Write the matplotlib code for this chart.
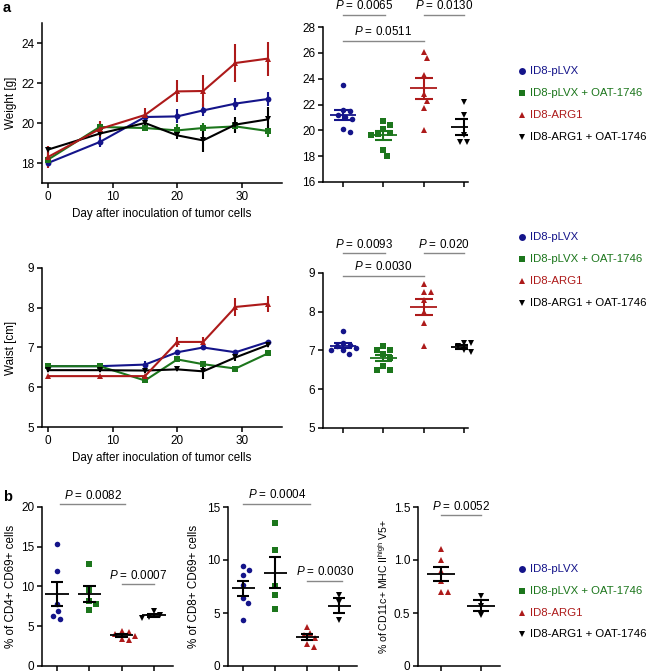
import numpy as np
import matplotlib
matplotlib.use('Agg')
import matplotlib.pyplot as plt
from matplotlib.lines import Line2D

plt.rcParams['font.family'] = ['Liberation Sans', 'DejaVu Sans']
plt.rcParams['mathtext.fontset'] = 'custom'
plt.rcParams['mathtext.rm'] = 'Liberation Sans'
plt.rcParams['mathtext.it'] = 'Liberation Sans:italic'
plt.rcParams['axes.linewidth'] = 1.1

# ---------------- data ----------------
groups = ['ID8-pLVX', 'ID8-pLVX + OAT-1746', 'ID8-ARG1', 'ID8-ARG1 + OAT-1746']
colors = ['#14148a', '#1c761c', '#ad1a1a', '#000000']
markers = ['o', 's', '^', 'v']

days = [0, 8, 15, 20, 24, 29, 34]

weight_pLVX = [18.0, 19.05, 20.3, 20.33, 20.63, 20.97, 21.2]
weight_pLVX_err = [0.2, 0.25, 0.25, 0.35, 0.3, 0.3, 0.35]
weight_pLVX_OAT = [18.17, 19.8, 19.75, 19.63, 19.75, 19.83, 19.6]
weight_pLVX_OAT_err = [0.3, 0.2, 0.15, 0.3, 0.25, 0.3, 0.3]
weight_ARG1 = [18.3, 19.7, 20.4, 21.58, 21.6, 23.0, 23.22]
weight_ARG1_err = [0.55, 0.4, 0.35, 0.55, 0.8, 0.95, 0.85]
weight_ARG1_OAT = [18.67, 19.47, 20.0, 19.38, 19.13, 19.92, 20.18]
weight_ARG1_OAT_err = [0.2, 0.15, 0.2, 0.2, 0.6, 0.4, 0.6]

waist_pLVX = [6.53, 6.53, 6.57, 6.88, 7.0, 6.88, 7.14]
waist_pLVX_err = [0.03, 0.03, 0.08, 0.05, 0.04, 0.04, 0.03]
waist_pLVX_OAT = [6.53, 6.53, 6.17, 6.7, 6.58, 6.47, 6.85]
waist_pLVX_OAT_err = [0.03, 0.03, 0.06, 0.05, 0.08, 0.06, 0.05]
waist_ARG1 = [6.28, 6.28, 6.28, 7.14, 7.14, 8.02, 8.1]
waist_ARG1_err = [0.04, 0.04, 0.04, 0.13, 0.12, 0.23, 0.2]
waist_ARG1_OAT = [6.43, 6.43, 6.42, 6.45, 6.4, 6.75, 7.06]
waist_ARG1_OAT_err = [0.05, 0.05, 0.05, 0.03, 0.2, 0.1, 0.04]

# endpoint weights (g)
wt_pLVX = [23.5, 21.6, 21.5, 21.2, 21.0, 20.9, 20.1, 19.9]
wt_pLVX_OAT = [20.4, 20.7, 20.1, 19.8, 19.7, 19.6, 18.5, 18.0]
wt_ARG1 = [26.1, 25.6, 24.3, 22.8, 22.3, 21.7, 20.0]
wt_ARG1_OAT = [22.2, 21.2, 19.6, 19.1, 19.1]

# endpoint waist (cm)
wa_pLVX = [7.5, 7.2, 7.15, 7.1, 7.05, 7.0, 7.0, 6.9]
wa_pLVX_OAT = [7.1, 7.0, 7.0, 6.9, 6.8, 6.6, 6.5, 6.5]
wa_ARG1 = [8.7, 8.5, 8.5, 8.3, 8.0, 7.7, 7.1]
wa_ARG1_OAT = [7.2, 7.2, 7.1, 7.0, 6.95]

# panel b
cd4_pLVX = [15.3, 11.9, 7.8, 6.9, 6.25, 5.96]
cd4_pLVX_OAT = [12.8, 9.5, 8.2, 7.8, 7.0]
cd4_ARG1 = [4.4, 4.3, 4.0, 3.8, 3.4, 3.3]
cd4_ARG1_OAT = [6.9, 6.4, 6.2, 6.0]

cd8_pLVX = [9.45, 9.07, 8.57, 7.6, 6.4, 5.9, 4.35]
cd8_pLVX_OAT = [13.5, 10.9, 7.56, 6.7, 5.4]
cd8_ARG1 = [3.7, 3.1, 2.9, 2.6, 2.1, 1.8]
cd8_ARG1_OAT = [6.7, 6.0, 4.3]

dc_ARG1 = [1.1, 1.0, 0.9, 0.8, 0.7, 0.7]
dc_ARG1_OAT = [0.66, 0.57, 0.48]

W, H = 648, 672
fig = plt.figure(figsize=(W / 100, H / 100), dpi=100)

TICK_FS = 8.5
LAB_FS = 8.4
P_FS = 8.4


def add_ax(left, top, right, bottom):
    return fig.add_axes([left / W, 1 - bottom / H, (right - left) / W, (bottom - top) / H])


def style(ax):
    for s in ['top', 'right']:
        ax.spines[s].set_visible(False)
    ax.tick_params(direction='out', length=3.5, width=1.1, labelsize=TICK_FS, pad=2)


def swarm_offsets(ax, vals, d_px):
    ypx = np.array([ax.transData.transform((1, v))[1] for v in vals])
    upx = ax.transData.transform((1, 0))[0] - ax.transData.transform((0, 0))[0]
    order = np.argsort(-np.array(vals))
    placed = []
    offs = np.zeros(len(vals))
    for i in order:
        y = ypx[i]
        cands = [0.0]
        for (px, py) in placed:
            dy = abs(py - y)
            if dy < d_px:
                dx = np.sqrt(d_px ** 2 - dy ** 2)
                cands += [px + dx, px - dx]
        cands = sorted(cands, key=lambda c: (abs(c), -c))
        for c in cands:
            ok = all((c - px) ** 2 + (y - py) ** 2 >= d_px ** 2 * 0.999 for (px, py) in placed)
            if ok:
                break
        placed.append((c, y))
        offs[i] = c / upx
    return offs


def scatter_panel(ax, data, gidx, ms, bar_color=None, mw=0.33, cw=0.22):
    for k, (vals, g) in enumerate(zip(data, gidx)):
        x = k + 1
        offs = swarm_offsets(ax, vals, ms / 0.72 * 1.3)
        ax.plot(x + offs, vals, linestyle='none', marker=markers[g], color=colors[g],
                ms=ms, mew=0, zorder=2, clip_on=False)
        m = np.mean(vals)
        s = np.std(vals, ddof=1) / np.sqrt(len(vals))
        c = colors[g] if bar_color is None else bar_color
        ax.hlines(m, x - mw, x + mw, color=c, lw=1.3, zorder=3)
        ax.vlines(x, m - s, m + s, color=c, lw=1.5, zorder=3)
        ax.hlines([m - s, m + s], x - cw, x + cw, color=c, lw=1.5, zorder=3)
    ax.set_xticks(range(1, len(data) + 1))
    ax.set_xticklabels([])


def bracket(ax, x1, x2, y, text, fs=P_FS):
    ax.plot([x1, x2], [y, y], color='#888888', lw=1.0, clip_on=False)
    ax.annotate(text, xy=((x1 + x2) / 2, y), xytext=(0, 2.0), textcoords='offset points',
                ha='center', va='bottom', fontsize=fs, annotation_clip=False)


def legend(rows_y):
    for g, y in zip(range(4), rows_y):
        fig.add_artist(Line2D([522 / W], [1 - y / H], transform=fig.transFigure,
                              marker=markers[g], color=colors[g], ms=5, mew=0, linestyle='none'))
        fig.text(530 / W, 1 - y / H, groups[g], color=colors[g], fontsize=8.2,
                 ha='left', va='center')


def line_panel(ax, series, errs):
    for g in [0, 1, 3, 2]:
        ax.errorbar(days, series[g], yerr=errs[g], color=colors[g], marker=markers[g],
                    ms=4.2, mew=0, lw=1.5, elinewidth=1.5, capsize=3, capthick=1.5,
                    clip_on=False)
    ax.set_xlim(-0.93, 36.2)
    ax.set_xticks([0, 10, 20, 30])
    ax.set_xlabel('Day after inoculation of tumor cells', fontsize=LAB_FS, labelpad=4)


# ---- a: weight line ----
ax1 = add_ax(42, 23, 282, 183)
style(ax1)
ax1.set_ylim(17, 25)
ax1.set_yticks([18, 20, 22, 24])
line_panel(ax1, [weight_pLVX, weight_pLVX_OAT, weight_ARG1, weight_ARG1_OAT],
           [weight_pLVX_err, weight_pLVX_OAT_err, weight_ARG1_err, weight_ARG1_OAT_err])
ax1.set_ylabel('Weight [g]', fontsize=LAB_FS, labelpad=3)

# ---- a: weight scatter ----
ax2 = add_ax(323, 27, 468, 182)
style(ax2)
ax2.set_xlim(0.5, 4.1)
ax2.set_ylim(16, 28)
ax2.set_yticks([16, 18, 20, 22, 24, 26, 28])
scatter_panel(ax2, [wt_pLVX, wt_pLVX_OAT, wt_ARG1, wt_ARG1_OAT], [0, 1, 2, 3], 4.0)
bracket(ax2, 1.0, 2.05, 28.95, '$\\it{P}$ = 0.0065')
bracket(ax2, 3.0, 4.0, 28.95, '$\\it{P}$ = 0.0130')
bracket(ax2, 1.0, 3.0, 26.9, '$\\it{P}$ = 0.0511')
legend([71, 93, 115, 137])

# ---- a: waist line ----
ax3 = add_ax(42, 268, 282, 427)
style(ax3)
ax3.set_ylim(5, 9)
ax3.set_yticks([5, 6, 7, 8, 9])
line_panel(ax3, [waist_pLVX, waist_pLVX_OAT, waist_ARG1, waist_ARG1_OAT],
           [waist_pLVX_err, waist_pLVX_OAT_err, waist_ARG1_err, waist_ARG1_OAT_err])
ax3.set_ylabel('Waist [cm]', fontsize=LAB_FS, labelpad=8)

# ---- a: waist scatter ----
ax4 = add_ax(323, 272.7, 468, 428)
style(ax4)
ax4.set_xlim(0.5, 4.1)
ax4.set_ylim(5, 9)
ax4.set_yticks([5, 6, 7, 8, 9])
scatter_panel(ax4, [wa_pLVX, wa_pLVX_OAT, wa_ARG1, wa_ARG1_OAT], [0, 1, 2, 3], 4.0)
bracket(ax4, 1.0, 2.05, 9.5, '$\\it{P}$ = 0.0093')
bracket(ax4, 3.0, 4.0, 9.5, '$\\it{P}$ = 0.020')
bracket(ax4, 1.0, 3.0, 8.92, '$\\it{P}$ = 0.0030')
legend([237, 259, 281, 303])

# ---- b: CD4 ----
ax5 = add_ax(42, 506.7, 173, 666)
style(ax5)
ax5.set_xlim(0.535, 4.59)
ax5.set_ylim(0, 20)
ax5.set_yticks([0, 5, 10, 15, 20])
scatter_panel(ax5, [cd4_pLVX, cd4_pLVX_OAT, cd4_ARG1, cd4_ARG1_OAT], [0, 1, 2, 3], 4.0,
              bar_color='black', mw=0.36, cw=0.2)
bracket(ax5, 1.1, 3.1, 20.3, '$\\it{P}$ = 0.0082')
bracket(ax5, 3.0, 4.0, 10.25, '$\\it{P}$ = 0.0007')
ax5.set_ylabel('% of CD4+ CD69+ cells', fontsize=LAB_FS, labelpad=3)

# ---- b: CD8 ----
ax6 = add_ax(228, 507, 357, 666)
style(ax6)
ax6.set_xlim(0.53, 4.56)
ax6.set_ylim(0, 15)
ax6.set_yticks([0, 5, 10, 15])
scatter_panel(ax6, [cd8_pLVX, cd8_pLVX_OAT, cd8_ARG1, cd8_ARG1_OAT], [0, 1, 2, 3], 4.0,
              bar_color='black', mw=0.36, cw=0.2)
bracket(ax6, 1.0, 3.1, 15.3, '$\\it{P}$ = 0.0004')
bracket(ax6, 3.0, 4.1, 8.06, '$\\it{P}$ = 0.0030')
ax6.set_ylabel('% of CD8+ CD69+ cells', fontsize=LAB_FS, labelpad=5)

# ---- b: CD11c ----
ax7 = add_ax(418, 507, 500, 666)
style(ax7)
ax7.set_xlim(0.425, 2.475)
ax7.set_ylim(0, 1.5)
ax7.set_yticks([0, 0.5, 1.0, 1.5])
ax7.set_yticklabels(['0', '0.5', '1.0', '1.5'])
scatter_panel(ax7, [dc_ARG1, dc_ARG1_OAT], [2, 3], 4.0, bar_color='black', mw=0.36, cw=0.2)
bracket(ax7, 1.0, 2.0, 1.42, '$\\it{P}$ = 0.0052')
ax7.set_ylabel('% of CD11c+ MHC II$^{\\mathrm{high}}$ V5+', fontsize=7.6, labelpad=3)
legend([569, 591, 613, 634])

fig.text(3 / W, 1 - 8 / H, 'a', fontsize=10.5, fontweight='bold', ha='left', va='center')
fig.text(3 / W, 1 - 497 / H, 'b', fontsize=10.5, fontweight='bold', ha='left', va='center')

fig.savefig('out.png', dpi=100)
